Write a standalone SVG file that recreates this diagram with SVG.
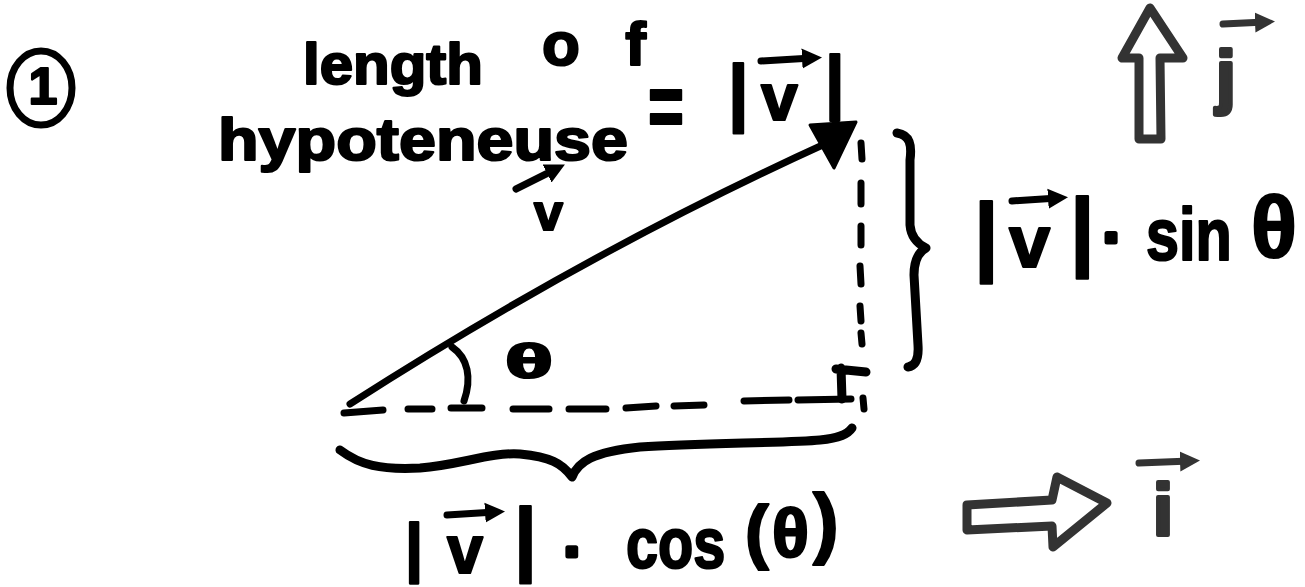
<svg xmlns="http://www.w3.org/2000/svg" width="1305" height="587" viewBox="0 0 1305 587">
<style>
.hw{font-family:"Liberation Sans",Arial,sans-serif;font-weight:bold;fill:#000;stroke:#000;stroke-width:2.2;stroke-linejoin:round}
.gr{font-family:"Liberation Sans",Arial,sans-serif;font-weight:bold;fill:#333;stroke:#333;stroke-width:4;stroke-linejoin:round}
.ln{fill:none;stroke:#000;stroke-width:7;stroke-linecap:round;stroke-linejoin:round}
.br{fill:none;stroke:#000;stroke-width:9;stroke-linecap:round;stroke-linejoin:round}
.ds{fill:none;stroke:#000;stroke-width:7;stroke-linecap:round}
.hol{fill:none;stroke:#333;stroke-width:9;stroke-linecap:round;stroke-linejoin:round}
.va{fill:none;stroke:#000;stroke-width:7;stroke-linecap:round}
.vg{fill:none;stroke:#333;stroke-width:7;stroke-linecap:round}
.dot{stroke-width:5}
</style>
<defs>
<marker id="ah" viewBox="0 0 10 10" refX="5" refY="5" markerWidth="20" markerHeight="22" markerUnits="userSpaceOnUse" orient="auto">
<path d="M0,0 L10,5 L0,10 Z" fill="#000"/>
</marker>
<marker id="ahg" viewBox="0 0 10 10" refX="5" refY="5" markerWidth="20" markerHeight="26" markerUnits="userSpaceOnUse" orient="auto">
<path d="M0,0 L10,5 L0,10 Z" fill="#333"/>
</marker>
</defs>
<rect width="1305" height="587" fill="#fff"/>

<g id="step-number">
<ellipse cx="41" cy="88" rx="31" ry="37" fill="none" stroke="#000" stroke-width="7"/>
<text class="hw" x="43" y="104" font-size="52" text-anchor="middle">1</text>
</g>

<g id="label-hypotenuse">
<text class="hw"><tspan x="303" y="84" font-size="58" textLength="180" lengthAdjust="spacingAndGlyphs">length</tspan><tspan x="542" y="65" font-size="62" textLength="104" lengthAdjust="spacing">of</tspan></text>
<text class="hw"><tspan x="218" y="160" font-size="60" textLength="410" lengthAdjust="spacingAndGlyphs">hypoteneuse</tspan><tspan x="648" y="137" font-size="90" textLength="36" lengthAdjust="spacingAndGlyphs">=</tspan><tspan x="728" y="117" font-size="74">|</tspan><tspan x="761" y="120" font-size="66">v</tspan><tspan x="825" y="105" font-size="70">|</tspan></text>
<path class="va" d="M761,61 L812,58" marker-end="url(#ah)"/>
</g>

<g id="label-v">
<path class="va" d="M516,189 L556,169" marker-end="url(#ah)"/>
<text class="hw" x="534" y="230" font-size="52">v</text>
</g>

<g id="triangle">
<path class="ln" d="M350,404 Q587,252 827,143"/>
<polygon points="810,125 856,122 834,168" fill="#000" stroke="#000" stroke-width="3" stroke-linejoin="round"/>
<path class="ds" d="M861,143 L862,159 M861,183 L861,204 M861,226 L861,245 M860,266 L861,284 M860,306 L861,321 M861,333 L862,344 M863,398 L864,409"/>
<path class="ds" d="M344,413 L383,410 M408,409 L432,409 M451,408 L482,408 M513,409 L549,409 M569,409 L606,409 M626,408 L656,406 M674,406 L704,405 M744,401 L789,400 M798,400 L851,399"/>
<path class="br" d="M841,368 L842,399 M836,369 L866,372"/>
<path class="ln" d="M452,347 C468,358 472,378 464,401"/>
</g>

<g id="label-theta">
<text class="hw" x="505" y="378" font-size="48" textLength="48" lengthAdjust="spacingAndGlyphs">θ</text>
</g>

<g id="brace-bottom">
<path class="br" d="M340,450 C360,465 380,470 420,468 C460,465 490,452 520,454 C550,457 562,463 572,477 C578,462 592,452 640,447 C700,443 790,443 820,440 C840,438 848,434 852,428"/>
</g>

<g id="brace-right">
<path class="br" d="M897,133 C910,135 912,145 910,160 L910,225 C911,238 918,244 926,248 C917,253 914,262 914,275 L918,345 C919,360 915,366 908,367"/>
</g>

<g id="label-sin">
<text class="hw"><tspan x="974" y="264" font-size="88">|</tspan><tspan x="1009" y="267" font-size="74">v</tspan><tspan x="1070" y="259" font-size="88">|</tspan><tspan class="dot" x="1103" y="257" font-size="58">·</tspan></text>
<text class="hw" transform="translate(1146,260) scale(0.79,1)" font-size="75">sin</text>
<text class="hw" x="1251" y="257" font-size="88" textLength="46" lengthAdjust="spacingAndGlyphs">θ</text>
<path class="va" d="M1012,201 L1058,198" marker-end="url(#ah)"/>
</g>

<g id="label-cos">
<text class="hw"><tspan x="405" y="569" font-size="65">|</tspan><tspan x="447" y="573" font-size="68" textLength="36" lengthAdjust="spacingAndGlyphs">v</tspan><tspan x="514" y="565" font-size="82">|</tspan><tspan class="dot" x="564" y="570" font-size="56">·</tspan></text>
<text class="hw" transform="translate(626,568) scale(0.79,1)" font-size="73">cos</text>
<text class="hw"><tspan x="745" y="555" font-size="71">(</tspan><tspan x="772" y="557" font-size="68" textLength="37" lengthAdjust="spacingAndGlyphs">θ</tspan><tspan x="813" y="549" font-size="77">)</tspan></text>
<path class="va" d="M447,515 L495,512" marker-end="url(#ah)"/>
</g>

<g id="unit-i">
<path class="hol" d="M967,505 L1052,500 L1057,477 L1107,503 L1053,547 L1052,526 L967,530 Z"/>
<text class="gr" x="1153" y="535" font-size="72">i</text>
<path class="vg" d="M1139,463 L1190,461" marker-end="url(#ahg)"/>
</g>

<g id="unit-j">
<path class="hol" d="M1150,8 L1122,58 L1139,58 L1139,139 L1161,139 L1160,58 L1183,58 Z"/>
<text class="gr" x="1216" y="100" font-size="71">j</text>
<path class="vg" d="M1223,24 L1265,22" marker-end="url(#ahg)"/>
</g>
</svg>
